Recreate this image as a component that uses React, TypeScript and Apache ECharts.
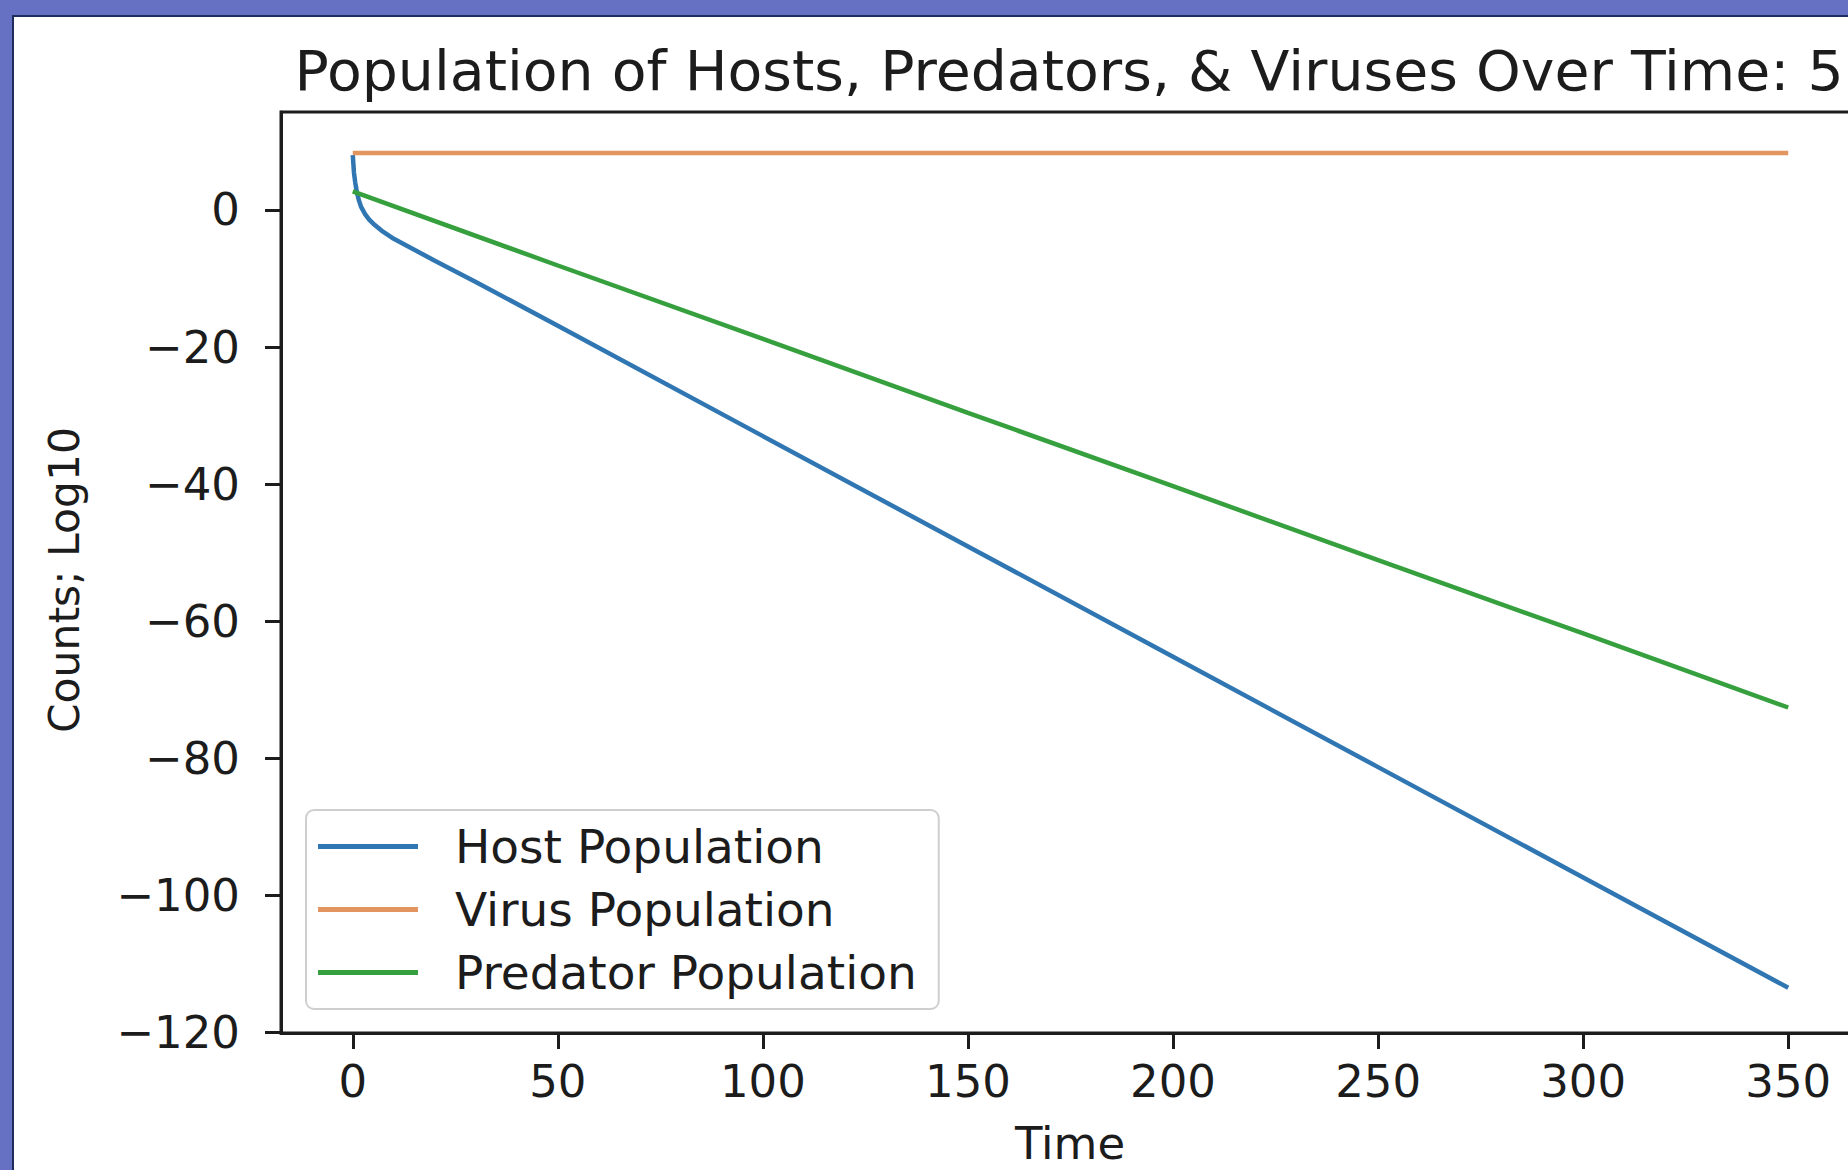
import React, { useEffect, useRef } from "react";
import * as echarts from "echarts";

const xTicks = [0, 50, 100, 150, 200, 250, 300, 350];
const yTicks = [-120, -100, -80, -60, -40, -20, 0];

const seriesNames = ["Host Population", "Virus Population", "Predator Population"];

const hostTime = [0, 0.3, 0.6, 1, 1.5, 2, 3, 4, 5, 7, 10, 15, 20, 30, 50, 100, 150, 200, 250, 300, 350];
const hostLog = [8.0, 5.4, 4.0, 2.6, 1.4, 0.5, -0.6, -1.4, -2.0, -3.0, -4.2, -5.8, -7.4, -10.5, -16.9, -33.0, -49.1, -65.2, -81.3, -97.4, -113.5];

const virusTime = [0, 50, 100, 150, 200, 250, 300, 350];
const virusLog = [8.3, 8.3, 8.3, 8.3, 8.3, 8.3, 8.3, 8.3];

const predatorTime = [0, 50, 100, 150, 200, 250, 300, 350];
const predatorLog = [2.7, -8.1, -18.8, -29.6, -40.3, -51.1, -61.8, -72.6];

const FONT = "DejaVu Sans";
const INK = "#1c1c1c";

function pairs(t: number[], v: number[]) {
  return t.map((x, i) => [x, v[i]]);
}

function fmt(v: number) {
  return v < 0 ? "\u2212" + Math.abs(v) : String(v);
}

export default function App() {
  const ref = useRef<HTMLDivElement>(null);

  useEffect(() => {
    if (!ref.current) return;
    const chart = echarts.init(ref.current, undefined, { renderer: "svg" });
    const colors = ["#2f76b2", "#e2955e", "#35a03d"];
    chart.setOption({
      animation: false,
      grid: {
        left: 281,
        top: 112,
        width: 1579,
        height: 921,
        show: true,
        borderColor: INK,
        borderWidth: 3,
        backgroundColor: "transparent",
      },
      xAxis: {
        type: "value",
        min: -17.5,
        max: 367.5,
        splitLine: { show: false },
        axisLine: { show: true, onZero: false, lineStyle: { color: INK, width: 3 } },
        axisTick: { show: true, customValues: xTicks, length: 16, lineStyle: { color: INK, width: 3 } },
        axisLabel: {
          customValues: xTicks,
          fontSize: 45,
          fontFamily: FONT,
          color: INK,
          margin: 26,
        },
      },
      yAxis: {
        type: "value",
        min: -120.1,
        max: 14.3,
        splitLine: { show: false },
        axisLine: { show: true, onZero: false, lineStyle: { color: INK, width: 3 } },
        axisTick: { show: true, customValues: yTicks, length: 16, lineStyle: { color: INK, width: 3 } },
        axisLabel: {
          customValues: yTicks,
          fontSize: 45,
          fontFamily: FONT,
          color: INK,
          margin: 41,
          formatter: (v: number) => fmt(v),
        },
      },
      legend: {
        orient: "vertical",
        left: 306,
        top: 810,
        icon: "rect",
        itemWidth: 100,
        itemHeight: 5,
        itemGap: 16,
        padding: [13, 22, 13, 12],
        borderColor: "#cfcfcf",
        borderWidth: 2,
        borderRadius: 8,
        backgroundColor: "#ffffff",
        textStyle: { fontSize: 47, fontFamily: FONT, color: INK, padding: [0, 0, 0, 32] },
        data: seriesNames,
      },
      series: [
        {
          name: seriesNames[0],
          type: "line",
          data: pairs(hostTime, hostLog),
          symbol: "none",
          smooth: false,
          lineStyle: { color: colors[0], width: 4.5 },
          itemStyle: { color: colors[0] },
        },
        {
          name: seriesNames[1],
          type: "line",
          data: pairs(virusTime, virusLog),
          symbol: "none",
          lineStyle: { color: colors[1], width: 4.5 },
          itemStyle: { color: colors[1] },
        },
        {
          name: seriesNames[2],
          type: "line",
          data: pairs(predatorTime, predatorLog),
          symbol: "none",
          lineStyle: { color: colors[2], width: 4.5 },
          itemStyle: { color: colors[2] },
        },
      ],
      graphic: [
        {
          type: "text",
          x: 294.6,
          y: 71,
          scaleX: 1.035,
          style: {
            text: "Population of Hosts, Predators, & Viruses Over Time: 5",
            fontSize: 55,
            fontFamily: FONT,
            fill: INK,
            align: "left",
            verticalAlign: "middle",
            textAlign: "left",
            textVerticalAlign: "middle",
          },
        },
        {
          type: "text",
          x: 1070,
          y: 1143,
          style: {
            text: "Time",
            fontSize: 45,
            fontFamily: FONT,
            fill: INK,
            align: "center",
            verticalAlign: "middle",
            textAlign: "center",
            textVerticalAlign: "middle",
          },
        },
        {
          type: "text",
          x: 64,
          y: 580,
          rotation: Math.PI / 2,
          style: {
            text: "Counts; Log10",
            fontSize: 42.5,
            fontFamily: FONT,
            fill: INK,
            align: "center",
            verticalAlign: "middle",
            textAlign: "center",
            textVerticalAlign: "middle",
          },
        },
      ],
    });
    return () => chart.dispose();
  }, []);

  return (
    <div
      style={{
        position: "fixed",
        left: 0,
        top: 0,
        width: 1848,
        height: 1170,
        overflow: "hidden",
        background: "#6771c4",
      }}
    >
      <div
        style={{
          position: "absolute",
          left: 12,
          top: 15,
          right: 0,
          bottom: 0,
          background: "#ffffff",
          borderLeft: "2px solid #1e2d5c",
          borderTop: "2px solid #1e2d5c",
        }}
      />
      <div ref={ref} style={{ position: "absolute", left: 0, top: 0, width: 1900, height: 1170 }} />
    </div>
  );
}
